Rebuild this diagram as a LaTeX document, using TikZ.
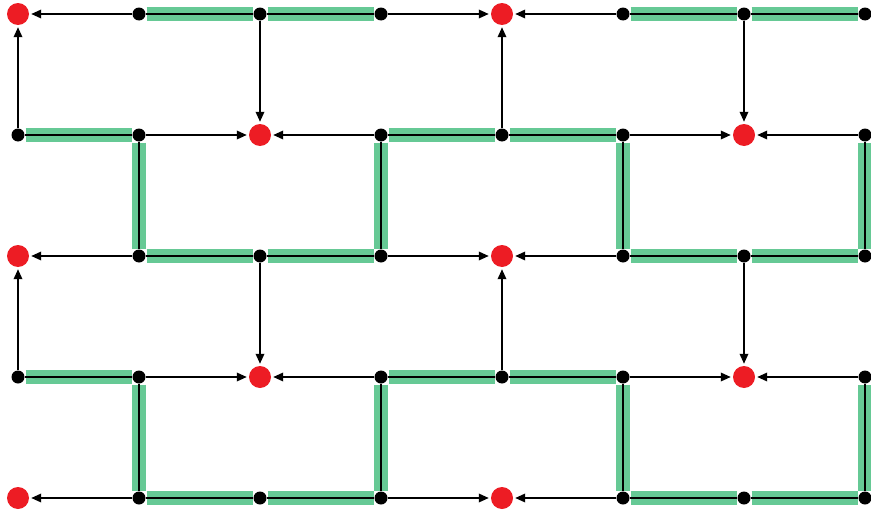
\documentclass[tikz,border=0pt]{standalone}
\usetikzlibrary{arrows.meta}
\definecolor{bandgreen}{RGB}{102,201,149}
\definecolor{dotred}{RGB}{237,28,36}
\begin{document}
\begin{tikzpicture}[x=1pt,y=-1pt,
  blackdot/.style={circle,fill=black,inner sep=0pt,minimum size=13pt},
  reddot/.style={circle,fill=dotred,inner sep=0pt,minimum size=22pt},
  band/.style={line width=14pt,draw=bandgreen,shorten <=7.5pt,shorten >=7.5pt},
  link/.style={line width=1.8pt,draw=black},
  flow/.style={link,shorten >=2pt,-{Triangle[length=10pt,width=8.5pt]}},
]
\useasboundingbox (0,0) rectangle (871,514);
% grid points
\foreach \i in {0,...,7}
  \foreach \j in {0,...,4}
    \coordinate (p\i\j) at ({18+121*\i},{14+121*\j});
% green bands
\foreach \a/\b in {10/20,20/30,50/60,60/70,
                   01/11,31/41,41/51,
                   12/22,22/32,52/62,62/72,
                   03/13,33/43,43/53,
                   14/24,24/34,54/64,64/74,
                   11/12,31/32,51/52,71/72,
                   13/14,33/34,53/54,73/74}
  \draw[band] (p\a) -- (p\b);
% nodes
\foreach \i/\j in {0/0,4/0,2/1,6/1,0/2,4/2,2/3,6/3,0/4,4/4}
  \node[reddot] (n\i\j) at (p\i\j) {};
\foreach \i/\j in {1/0,2/0,3/0,5/0,6/0,7/0,
                   0/1,1/1,3/1,4/1,5/1,7/1,
                   1/2,2/2,3/2,5/2,6/2,7/2,
                   0/3,1/3,3/3,4/3,5/3,7/3,
                   1/4,2/4,3/4,5/4,6/4,7/4}
  \node[blackdot] (n\i\j) at (p\i\j) {};
% plain black links under the bands
\foreach \a/\b in {10/20,20/30,50/60,60/70,
                   01/11,31/41,41/51,
                   12/22,22/32,52/62,62/72,
                   03/13,33/43,43/53,
                   14/24,24/34,54/64,64/74,
                   11/12,31/32,51/52,71/72,
                   13/14,33/34,53/54,73/74}
  \draw[link] (n\a) -- (n\b);
% arrows into red nodes
\foreach \a/\b in {10/00,30/40,50/40,
                   12/02,32/42,52/42,
                   14/04,34/44,54/44,
                   11/21,31/21,51/61,71/61,
                   13/23,33/23,53/63,73/63,
                   01/00,20/21,41/40,60/61,
                   03/02,22/23,43/42,62/63}
  \draw[flow] (n\a) -- (n\b);
\end{tikzpicture}
\end{document}
